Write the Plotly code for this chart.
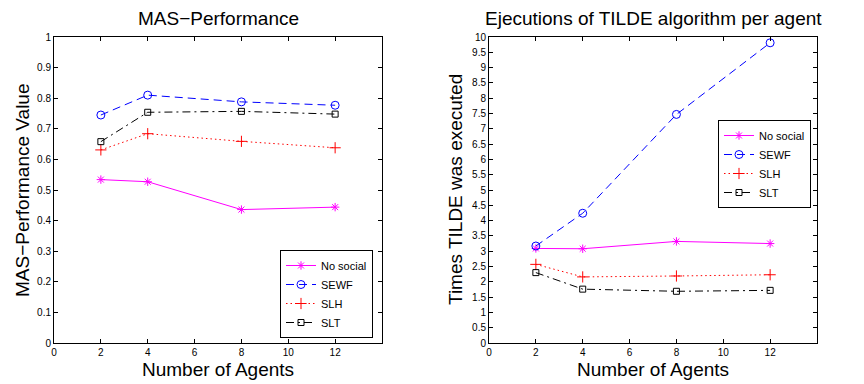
import plotly.graph_objects as go

agents = [2, 4, 8, 12]

# MAS-Performance
perf_nosocial = [0.534, 0.527, 0.436, 0.444]
perf_sewf = [0.745, 0.810, 0.788, 0.777]
perf_slh = [0.631, 0.684, 0.659, 0.638]
perf_slt = [0.658, 0.754, 0.757, 0.748]

# Executions of TILDE per agent
exec_nosocial = [3.09, 3.08, 3.32, 3.25]
exec_sewf = [3.17, 4.24, 7.47, 9.81]
exec_slh = [2.57, 2.16, 2.19, 2.23]
exec_slt = [2.30, 1.76, 1.69, 1.72]

series_names = ["No social", "SEWF", "SLH", "SLT"]
x_ticks = [0, 2, 4, 6, 8, 10, 12]
left_yticks = [0, 0.1, 0.2, 0.3, 0.4, 0.5, 0.6, 0.7, 0.8, 0.9, 1]
right_yticks = [0, 0.5, 1, 1.5, 2, 2.5, 3, 3.5, 4, 4.5, 5, 5.5, 6, 6.5, 7, 7.5, 8, 8.5, 9, 9.5, 10]

FONT = "Liberation Sans, Arial, Helvetica, sans-serif"
TFS = 19

styles = [
    dict(line=dict(color="#ff00ff", width=1, dash="solid"),
         marker=dict(symbol="asterisk-open", size=7, color="#ff00ff", line=dict(color="#ff00ff", width=1))),
    dict(line=dict(color="#0000ff", width=1, dash="8px,5px"),
         marker=dict(symbol="circle-open", size=8, color="#0000ff", line=dict(color="#0000ff", width=1))),
    dict(line=dict(color="#ff0000", width=1, dash="1.5px,3px"),
         marker=dict(symbol="cross-thin-open", size=8, color="#ff0000", line=dict(color="#ff0000", width=1))),
    dict(line=dict(color="#000000", width=1, dash="8px,4px,2px,4px"),
         marker=dict(symbol="square-open", size=6, color="#000000", line=dict(color="#000000", width=1))),
]

fig = go.Figure()

left_data = [perf_nosocial, perf_sewf, perf_slh, perf_slt]
right_data = [exec_nosocial, exec_sewf, exec_slh, exec_slt]

for name, ys, st in zip(series_names, left_data, styles):
    fig.add_trace(go.Scatter(x=agents, y=ys, name=name, mode="lines+markers",
                             xaxis="x", yaxis="y", legend="legend", **st))
for name, ys, st in zip(series_names, right_data, styles):
    fig.add_trace(go.Scatter(x=agents, y=ys, name=name, mode="lines+markers",
                             xaxis="x2", yaxis="y2", legend="legend2", **st))

axis_common = dict(showline=True, linecolor="black", linewidth=1, mirror="ticks",
                   ticks="inside", ticklen=4, tickcolor="black", showgrid=False,
                   zeroline=False, automargin=False,
                   tickfont=dict(family=FONT, size=10, color="black"))

# The page body adds an 8px margin, so the figure is laid out 8px up/left.
OFF = 8
W, H = 864 - OFF, 384 - OFF
L = 54 - OFF
T = 37 - OFF
R = W - (817 - OFF)
B = H - (343 - OFF)
PW = W - L - R
PH = H - T - B


def px(xref):
    return (xref - OFF - L) / PW


def py(yref):
    return (H - B - (yref - OFF)) / PH


left_end = px(382)
right_start = px(489)

fig.update_layout(
    width=W, height=H,
    margin=dict(l=L, r=R, t=T, b=B),
    paper_bgcolor="white", plot_bgcolor="white",
    font=dict(family=FONT, color="black"),
    xaxis=dict(domain=[0, left_end], range=[0, 14], tickvals=x_ticks, anchor="y", **axis_common),
    yaxis=dict(domain=[0, 1], range=[0, 1], tickvals=left_yticks,
               ticktext=["%g" % v for v in left_yticks], anchor="x", **axis_common),
    xaxis2=dict(domain=[right_start, 1], range=[0, 14], tickvals=x_ticks, anchor="y2", **axis_common),
    yaxis2=dict(domain=[0, 1], range=[0, 10], tickvals=right_yticks,
                ticktext=["%g" % v for v in right_yticks], anchor="x2", **axis_common),
    legend=dict(x=px(373), y=py(338), xanchor="right", yanchor="bottom",
                bgcolor="white", bordercolor="black", borderwidth=1,
                font=dict(family=FONT, size=11), itemwidth=30, tracegroupgap=0),
    legend2=dict(x=px(811), y=py(120), xanchor="right", yanchor="top",
                 bgcolor="white", bordercolor="black", borderwidth=1,
                 font=dict(family=FONT, size=11), itemwidth=30, tracegroupgap=0),
    showlegend=True,
    annotations=[
        dict(text="MAS\u2212Performance", xref="x domain", yref="paper", x=0.5, y=py(18),
             xanchor="center", yanchor="middle", showarrow=False, font=dict(family=FONT, size=TFS)),
        dict(text="Ejecutions of TILDE algorithm per agent", xref="x2 domain", yref="paper", x=0.5,
             y=py(18), xanchor="center", yanchor="middle", showarrow=False,
             font=dict(family=FONT, size=TFS)),
        dict(text="Number of Agents", xref="x domain", yref="paper", x=0.5, y=py(369),
             xanchor="center", yanchor="middle", showarrow=False, font=dict(family=FONT, size=TFS)),
        dict(text="Number of Agents", xref="x2 domain", yref="paper", x=0.5, y=py(369),
             xanchor="center", yanchor="middle", showarrow=False, font=dict(family=FONT, size=TFS)),
        dict(text="MAS\u2212Performance Value", xref="paper", yref="paper", x=px(22), y=0.5,
             textangle=-90, xanchor="center", yanchor="middle", showarrow=False,
             font=dict(family=FONT, size=TFS)),
        dict(text="Times TILDE was executed", xref="paper", yref="paper", x=px(455), y=0.5,
             textangle=-90, xanchor="center", yanchor="middle", showarrow=False,
             font=dict(family=FONT, size=TFS)),
    ],
)

fig.write_html("out.html")
